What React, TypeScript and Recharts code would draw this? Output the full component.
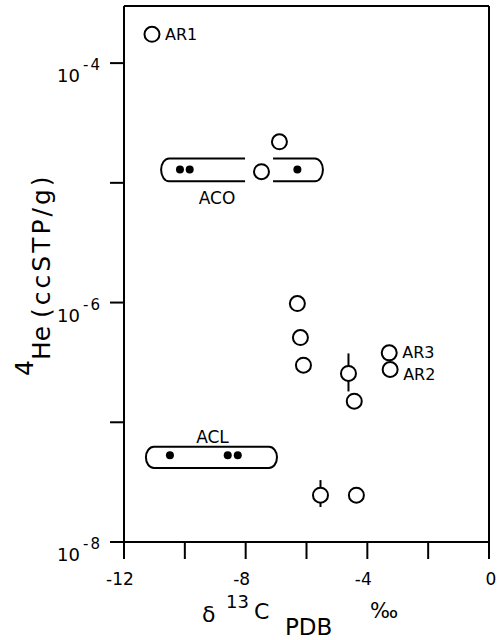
import React from 'react';
import { ScatterChart, Scatter, XAxis, YAxis, ErrorBar, ReferenceLine, ReferenceArea } from 'recharts';

// open circles (samples)
const openX = [-11.08, -6.89, -7.48, -6.3, -6.2, -6.1, -4.62, -4.43, -3.28, -3.25, -5.54, -4.36];
const openY = [1.74e-4, 2.2e-5, 1.24e-5, 9.8e-7, 5.1e-7, 3.0e-7, 2.56e-7, 1.5e-7, 3.8e-7, 2.76e-7, 2.46e-8, 2.46e-8];
const openLabel = ['AR1', '', '', '', '', '', '', '', 'AR3', 'AR2', '', ''];
const openErr: any[] = [null, null, null, null, null, null, [0.75e-7, 1.2e-7], null, null, null, [0.5e-8, 0.83e-8], null];

// filled dots inside the ACO / ACL outlines
const dotX = [-10.16, -9.84, -6.3, -10.49, -8.59, -8.26];
const dotY = [1.29e-5, 1.29e-5, 1.29e-5, 5.3e-8, 5.3e-8, 5.3e-8];

// group outlines
const groupName = ['ACO', 'ACL'];
const groupFrom = [-10.78, -11.28];
const groupTo = [-5.46, -6.97];
const groupLow = [1.03e-5, 4.16e-8];
const groupHigh = [1.6e-5, 6.24e-8];
const groupGap: any[] = [[-8.02, -7.1], null];
const groupLabelX = [-8.94, -9.09];

const xTicks = [-12, -10, -8, -6, -4, -2, 0];
const xLabels = ['-12', '', '-8', '', '-4', '', '0'];
const yTicks = [1e-8, 1e-7, 1e-6, 1e-5, 1e-4];
const yLabels = ['-8', '', '-6', '', '-4'];

const openPoints = openX.map((x, i) => ({ x, y: openY[i], label: openLabel[i], err: openErr[i] ?? undefined }));
const dotPoints = dotX.map((x, i) => ({ x, y: dotY[i] }));

// AR2 sits just under AR3, its label is pushed down a little
const labelDy: Record<string, number> = { AR1: 6, AR3: 5, AR2: 11 };

const OpenMark = (props: any) => {
  const { cx, cy, payload } = props;
  return (
    <g>
      <circle cx={cx} cy={cy} r={7.5} fill="#fff" stroke="#000" strokeWidth={2} />
      {payload.label ? (
        <text x={cx + 13} y={cy + (labelDy[payload.label] ?? 6)} fontSize={16} fill="#000">{payload.label}</text>
      ) : null}
    </g>
  );
};

const DotMark = (props: any) => <circle cx={props.cx} cy={props.cy} r={4} fill="#000" />;

const groupShape = (i: number) => (p: any) => {
  const { x, y, width, height } = p;
  const toPx = (v: number) => x + ((v - groupFrom[i]) / (groupTo[i] - groupFrom[i])) * width;
  const rx = 8;
  const ry = height / 2;
  const top = y;
  const bot = y + height;
  const xl = x;
  const xr = x + width;
  const gap = groupGap[i];
  let d = '';
  if (gap) {
    const g1 = toPx(gap[0]);
    const g2 = toPx(gap[1]);
    d = `M${g1},${top} L${xl + rx},${top} A${rx},${ry} 0 0 0 ${xl + rx},${bot} L${g1},${bot} ` +
      `M${g2},${top} L${xr - rx},${top} A${rx},${ry} 0 0 1 ${xr - rx},${bot} L${g2},${bot}`;
  } else {
    d = `M${xl + rx},${top} L${xr - rx},${top} A${rx},${ry} 0 0 1 ${xr - rx},${bot} L${xl + rx},${bot} A${rx},${ry} 0 0 1 ${xl + rx},${top}`;
  }
  const below = groupName[i] === 'ACO';
  return (
    <g>
      <path d={d} fill="none" stroke="#000" strokeWidth={2} />
      <text x={toPx(groupLabelX[i])} y={below ? bot + 23 : top - 4} textAnchor="middle" fontSize={17} fill="#000">
        {groupName[i]}
      </text>
    </g>
  );
};

const renderXTick = (p: any) => {
  const i = xTicks.indexOf(p.payload.value);
  const t = xLabels[i];
  if (!t) return <g />;
  return (
    <text x={p.x - (t.startsWith('-') ? 4 : -2)} y={p.y + 24} textAnchor="middle" fontSize={17} fill="#000">
      {t}
    </text>
  );
};

const renderYTick = (p: any) => {
  const i = yTicks.findIndex((v) => Math.abs(Math.log10(v) - Math.log10(p.payload.value)) < 1e-6);
  const e = yLabels[i];
  if (!e) return <g />;
  return (
    <g>
      <text x={p.x - 28} y={p.y + 19} textAnchor="end" fontSize={18} fill="#000">10</text>
      <text x={p.x - 25} y={p.y + 7} fontSize={15} letterSpacing={2} fill="#000">{e}</text>
    </g>
  );
};

const renderXTitle = (p: any) => {
  const { x, y } = p.viewBox;
  return (
    <g fill="#000">
      <text x={x + 78} y={y + 80} fontSize={22}>δ</text>
      <text x={x + 102} y={y + 66} fontSize={18}>13</text>
      <text x={x + 130} y={y + 77} fontSize={22}>C</text>
      <text x={x + 161} y={y + 93} fontSize={23}>PDB</text>
      <text x={x + 246} y={y + 76} fontSize={21}>‰</text>
    </g>
  );
};

const renderYTitle = (p: any) => {
  const { x, y } = p.viewBox;
  const tx = x + 50;
  const ty = y + 370;
  return (
    <text transform={`rotate(-90, ${tx}, ${ty})`} x={tx} y={ty} fontSize={25} fill="#000">
      <tspan dy={-17}>4</tspan>
      <tspan dy={17}>He </tspan>
      <tspan letterSpacing={3}>(ccSTP/g)</tspan>
    </text>
  );
};

const App: React.FC = () => {
  return (
    <div style={{ position: 'absolute', left: 0, top: 0, background: '#fff' }}>
      <ScatterChart
        width={499}
        height={640}
        margin={{ top: 6, right: 10, bottom: 0, left: 0 }}
        style={{ fontFamily: 'DejaVu Sans' }}
      >
        <XAxis
          type="number"
          dataKey="x"
          domain={[-12, 0]}
          ticks={xTicks}
          interval={0}
          allowDataOverflow
          tickSize={17}
          height={98}
          axisLine={{ stroke: '#000', strokeWidth: 2 }}
          tickLine={{ stroke: '#000', strokeWidth: 2 }}
          tick={renderXTick}
          label={{ content: renderXTitle }}
        />
        <YAxis
          type="number"
          dataKey="y"
          scale="log"
          domain={[1e-8, 3e-4]}
          ticks={yTicks}
          interval={0}
          allowDataOverflow
          tickSize={14}
          width={124}
          axisLine={{ stroke: '#000', strokeWidth: 2 }}
          tickLine={{ stroke: '#000', strokeWidth: 2 }}
          tick={renderYTick}
          label={{ content: renderYTitle }}
        />
        <ReferenceLine y={3e-4} stroke="#000" strokeWidth={2} />
        <ReferenceLine x={0} stroke="#000" strokeWidth={2} />
        {groupName.map((name, i) => (
          <ReferenceArea
            key={name}
            x1={groupFrom[i]}
            x2={groupTo[i]}
            y1={groupLow[i]}
            y2={groupHigh[i]}
            shape={groupShape(i)}
          />
        ))}
        <Scatter data={dotPoints} dataKey="y" isAnimationActive={false} shape={DotMark} />
        <Scatter data={openPoints} dataKey="y" isAnimationActive={false} shape={OpenMark}>
          <ErrorBar dataKey="err" direction="y" width={0} stroke="#000" strokeWidth={2} isAnimationActive={false} />
        </Scatter>
      </ScatterChart>
    </div>
  );
};

export default App;
